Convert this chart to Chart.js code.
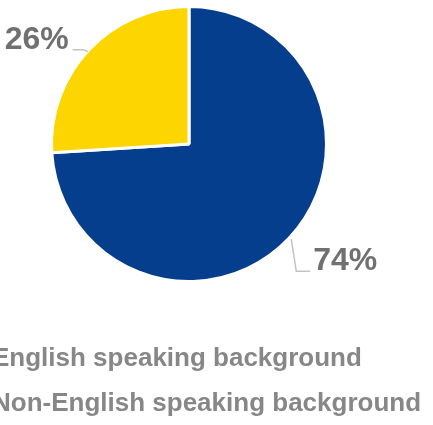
<!DOCTYPE html>
<html>
<head>
<meta charset="utf-8">
<script src="https://cdn.jsdelivr.net/npm/chart.js@4.4.1/dist/chart.umd.min.js"></script>
<style>
  html, body { margin: 0; padding: 0; background: #fff; }
  #wrap { width: 433px; height: 425px; position: relative; }
</style>
</head>
<body>
<div id="wrap"><canvas id="pie"></canvas></div>
<script>
// 言語背景別の割合
const categories = ['English speaking background', 'Non-English speaking background'];
const shares = [74, 26];
const sliceColors = ['#063e8e', '#fdd500'];

const FONT = '"Liberation Sans", Arial, sans-serif';

// 外側ラベル + 引き出し線
const outerLabels = {
    id: 'outerLabels',
    afterDatasetsDraw(chart) {
        const ctx = chart.ctx;
        const arcs = chart.getDatasetMeta(0).data;
        ctx.save();
        arcs.forEach((arc, i) => {
            const mid = (arc.startAngle + arc.endAngle) / 2;
            const cos = Math.cos(mid), sin = Math.sin(mid);
            const x0 = arc.x + cos * arc.outerRadius;
            const y0 = arc.y + sin * arc.outerRadius;
            const right = cos >= 0;
            let ex, ey, tx;
            ctx.strokeStyle = '#c4c4c4';
            ctx.lineWidth = 1.5;
            ctx.beginPath();
            ctx.moveTo(x0 + (right ? 2 : -1), y0 + (right ? 1 : 2));
            if (right) {
                ex = x0 + 7; ey = y0 + 33;
                ctx.lineTo(ex, ey);
                ctx.lineTo(ex + 14, ey);
                tx = ex + 17;
            } else {
                ex = x0 - 6; ey = y0;
                ctx.quadraticCurveTo(x0 - 4, ey, ex, ey);
                ctx.lineTo(ex - 10, ey);
                tx = ex - 14;
            }
            ctx.stroke();
            ctx.fillStyle = '#707070';
            ctx.font = 'bold 32px ' + FONT;
            ctx.textAlign = right ? 'left' : 'right';
            ctx.textBaseline = 'alphabetic';
            ctx.fillText(shares[i] + '%', tx, ey - 1);
        });
        ctx.restore();
    }
};

// 凡例テキスト（左端は切れた状態）
const legendText = {
    id: 'legendText',
    afterDraw(chart) {
        const ctx = chart.ctx;
        ctx.save();
        ctx.fillStyle = '#878787';
        ctx.font = 'bold 26px ' + FONT;
        ctx.textAlign = 'left';
        ctx.textBaseline = 'alphabetic';
        categories.forEach((label, i) => {
            ctx.fillText(label, -8, 366 + i * 45);
        });
        ctx.restore();
    }
};

new Chart(document.getElementById('pie'), {
    type: 'pie',
    data: {
        labels: categories,
        datasets: [{
            data: shares,
            backgroundColor: sliceColors,
            borderColor: '#ffffff',
            borderWidth: 3
        }]
    },
    options: {
        responsive: true,
        maintainAspectRatio: false,
        animation: false,
        layout: {
            padding: { left: 50, right: 105, top: 5, bottom: 142 }
        },
        plugins: {
            legend: { display: false },
            tooltip: { enabled: false }
        }
    },
    plugins: [outerLabels, legendText]
});
</script>
</body>
</html>
